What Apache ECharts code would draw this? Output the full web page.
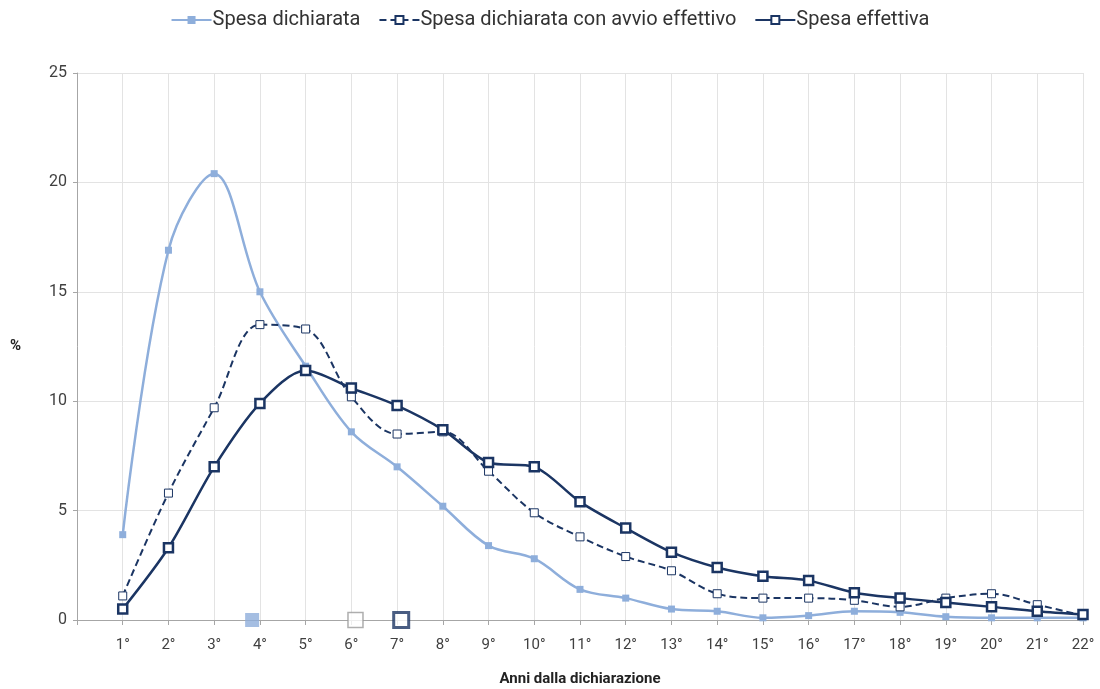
<!DOCTYPE html>
<html>
<head>
<meta charset="utf-8">
<script src="https://cdn.jsdelivr.net/npm/echarts@6/dist/echarts.min.js"></script>
<style>
  html, body { margin: 0; padding: 0; background: #fff; }
  #chart { width: 1100px; height: 689px; }
</style>
</head>
<body>
<div id="chart"></div>
<script>
const categories = ['1°','2°','3°','4°','5°','6°','7°','8°','9°','10°','11°','12°','13°','14°','15°','16°','17°','18°','19°','20°','21°','22°'];
const spesaDichiarata = [3.9, 16.9, 20.4, 15.0, 11.6, 8.6, 7.0, 5.2, 3.4, 2.8, 1.4, 1.0, 0.5, 0.4, 0.1, 0.2, 0.4, 0.35, 0.15, 0.1, 0.1, 0.1];
const spesaAvvio = [1.1, 5.8, 9.7, 13.5, 13.3, 10.2, 8.5, 8.6, 6.8, 4.9, 3.8, 2.9, 2.25, 1.2, 1.0, 1.0, 0.9, 0.6, 1.0, 1.2, 0.7, 0.2];
const spesaEffettiva = [0.5, 3.3, 7.0, 9.9, 11.4, 10.6, 9.8, 8.7, 7.2, 7.0, 5.4, 4.2, 3.1, 2.4, 2.0, 1.8, 1.25, 1.0, 0.8, 0.6, 0.4, 0.25];
// posizione media (anni) per ciascuna serie
const medie = [3.83, 6.09, 7.09];

const lightBlue = '#8eaedb';
const navy = '#1b3563';

function toPairs(arr) {
  return arr.map((v, i) => [i + 1, v]);
}

const chart = echarts.init(document.getElementById('chart'));
chart.setOption({
  animation: false,
  textStyle: { fontFamily: "'Liberation Sans Narrow', 'Roboto', sans-serif" },
  legend: {
    top: 5,
    left: 'center',
    itemGap: 18,
    itemWidth: 40,
    itemHeight: 10,
    textStyle: { fontSize: 20, color: '#333', padding: [0, 0, 0, -4] },
    data: ['Spesa dichiarata', 'Spesa dichiarata con avvio effettivo', 'Spesa effettiva']
  },
  grid: { left: 77, right: 17, top: 73, bottom: 69, outerBoundsMode: 'none' },
  xAxis: {
    type: 'value',
    min: 0,
    max: 22,
    interval: 1,
    name: 'Anni dalla dichiarazione',
    nameLocation: 'middle',
    nameGap: 52,
    nameTextStyle: { fontWeight: 'bold', fontSize: 15, color: '#222' },
    axisLine: { lineStyle: { color: '#a6a6a6' } },
    axisTick: { show: true, length: 5, lineStyle: { color: '#a6a6a6' } },
    axisLabel: {
      fontSize: 15,
      color: '#404040',
      margin: 18,
      formatter: v => (v === 0 ? '' : categories[v - 1])
    },
    splitLine: { show: true, lineStyle: { color: '#e3e3e3' } }
  },
  yAxis: {
    type: 'value',
    min: 0,
    max: 25,
    interval: 5,
    name: '%',
    nameLocation: 'middle',
    nameRotate: 0,
    nameGap: 56,
    nameTextStyle: { fontWeight: 'bold', fontSize: 15, color: '#222' },
    axisLine: { show: true, lineStyle: { color: '#a6a6a6' } },
    axisTick: { show: true, length: 4, lineStyle: { color: '#a6a6a6' } },
    axisLabel: { fontSize: 16, color: '#404040', margin: 10 },
    splitLine: { lineStyle: { color: '#e3e3e3' } }
  },
  series: [
    {
      name: 'Spesa dichiarata',
      type: 'line',
      smooth: 0.35,
      data: toPairs(spesaDichiarata),
      symbol: 'rect',
      symbolSize: 7,
      itemStyle: { color: lightBlue },
      lineStyle: { color: lightBlue, width: 2.5 },
      z: 2
    },
    {
      name: 'Spesa dichiarata con avvio effettivo',
      type: 'line',
      smooth: 0.35,
      data: toPairs(spesaAvvio),
      symbol: 'rect',
      symbolSize: 8,
      itemStyle: { color: '#fff', borderColor: navy, borderWidth: 1 },
      lineStyle: { color: navy, width: 2, type: [7, 4] },
      z: 3
    },
    {
      name: 'Spesa effettiva',
      type: 'line',
      smooth: 0.3,
      data: toPairs(spesaEffettiva),
      symbol: 'rect',
      symbolSize: 9,
      itemStyle: { color: '#fff', borderColor: navy, borderWidth: 2.5 },
      lineStyle: { color: navy, width: 2.5 },
      z: 4
    },
    {
      name: 'medie',
      type: 'scatter',
      symbol: 'rect',
      data: [
        { value: [medie[0], 0], symbolSize: 14, itemStyle: { color: lightBlue } },
        { value: [medie[1], 0], symbolSize: 15, itemStyle: { color: '#fff', borderColor: '#9a9a9a', borderWidth: 1.5 } },
        { value: [medie[2], 0], symbolSize: 15, itemStyle: { color: '#fff', borderColor: navy, borderWidth: 3 } }
      ],
      z: 5
    }
  ]
});
</script>
</body>
</html>
